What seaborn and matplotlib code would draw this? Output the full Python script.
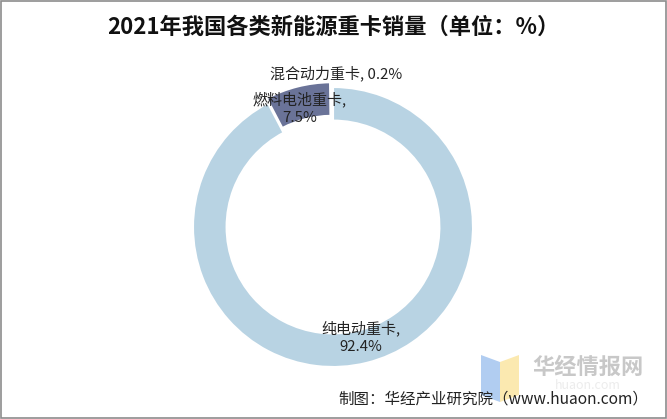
import numpy as np
import matplotlib
matplotlib.use("Agg")
import matplotlib.pyplot as plt
import seaborn as sns
from matplotlib.patches import Polygon, Rectangle

# data
categories = ["纯电动重卡", "燃料电池重卡", "混合动力重卡"]
shares = [92.4, 7.5, 0.2]
colors = ["#b8d3e3", "#6a7398", "#4a5a7a"]

sns.set_theme(style="white")
plt.rcParams["font.family"] = ["Noto Sans CJK SC", "DejaVu Sans"]

fig = plt.figure(figsize=(6.67, 4.19), dpi=100)
W, H = 667, 419
cx, cy, R = 333, 227, 140   # donut centre / radius in pixels
L = 1.15
ax = fig.add_axes([(cx - L * R) / W, (H - cy - L * R) / H, 2 * L * R / W, 2 * L * R / H])

wedges, _ = ax.pie(shares, colors=colors, startangle=90, counterclock=False,
                   explode=[0, 0.035, 0],
                   wedgeprops=dict(width=0.24, edgecolor="white", linewidth=1.5))
ax.set_xlim(-L, L)
ax.set_ylim(-L, L)
ax.set_aspect("equal")
ax.axis("off")

# labels: "name,\nvalue%" placed around each wedge's mid angle
label_r = [0.815, 0.88, 1.10]
label_da = [0.5, 1.6, -1.5]
one_line = [False, False, True]
for w, name, v, r, da, ol in zip(wedges, categories, shares, label_r, label_da, one_line):
    mid = np.deg2rad((w.theta1 + w.theta2) / 2 + da)
    txt = f"{name}, {v}%" if ol else f"{name},\n{v}%"
    ax.text(r * np.cos(mid), r * np.sin(mid), txt, ha="center", va="center",
            fontsize=10.8, color="#222222", linespacing=1.3)

fig.text(0.5, 1 - 27 / H, "2021年我国各类新能源重卡销量（单位：%）", ha="center", va="center",
         fontsize=16, fontweight="bold", color="#111111")

# watermark
fig.patches.append(Polygon([[481 / W, 1 - 355 / H], [500 / W, 1 - 362 / H], [500 / W, 1 - 402 / H],
                            [481 / W, 1 - 395 / H]], closed=True, transform=fig.transFigure,
                           facecolor="#a9c8f0", edgecolor="none", alpha=0.9))
fig.patches.append(Polygon([[500 / W, 1 - 362 / H], [519 / W, 1 - 355 / H], [519 / W, 1 - 395 / H],
                            [500 / W, 1 - 402 / H]], closed=True, transform=fig.transFigure,
                           facecolor="#fbe7a8", edgecolor="none", alpha=0.9))
fig.text(588 / W, 1 - 367 / H, "华经情报网", ha="center", va="center", fontsize=16,
         fontweight="bold", color="#c8c8c8")
fig.text(588 / W, 1 - 385 / H, "huaon.com", ha="center", va="center", fontsize=9,
         color="#ececec")

fig.text(648 / W, 1 - 399 / H, "制图：华经产业研究院（www.huaon.com）", ha="right", va="center",
         fontsize=11.2, color="#222222")

# frame
fig.patches.append(Rectangle((0.001, 0.002), 0.997, 0.996, transform=fig.transFigure,
                             fill=False, edgecolor="#8c8c8c", linewidth=1.2))

fig.savefig("out.png", dpi=100)
